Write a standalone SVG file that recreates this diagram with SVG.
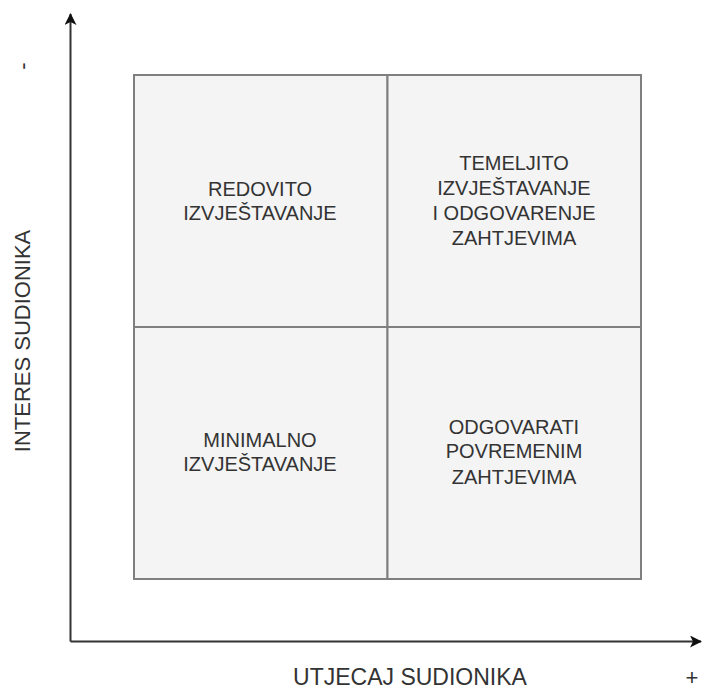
<svg xmlns="http://www.w3.org/2000/svg" width="702" height="691" viewBox="0 0 702 691">
<style>
.cell{fill:#f4f4f4;stroke:#7f7f7f;stroke-width:2}
.t{font-family:"Liberation Sans",Arial,sans-serif;font-size:20px;fill:#333;text-anchor:middle}
.ax{font-family:"Liberation Sans",Arial,sans-serif;fill:#333;text-anchor:middle}
.axis{stroke:#333;stroke-width:2;fill:none}
</style>
<defs>
<marker id="ah" markerWidth="12" markerHeight="12" viewBox="0 0 12 12" refX="11" refY="6" orient="auto" markerUnits="userSpaceOnUse">
<path d="M0,0 L12,6 L0,12 L3,6 Z" fill="#111"/>
</marker>
</defs>
<g id="q-top-left"><rect class="cell" x="134" y="75" width="253.5" height="252"/>
<text class="t" x="260" y="196">REDOVITO</text><text class="t" x="260" y="220">IZVJEŠTAVANJE</text></g>
<g id="q-top-right"><rect class="cell" x="387.5" y="75" width="253.5" height="252"/>
<text class="t" x="514" y="170">TEMELJITO</text><text class="t" x="514" y="195">IZVJEŠTAVANJE</text><text class="t" x="514" y="220">I ODGOVARENJE</text><text class="t" x="514" y="245">ZAHTJEVIMA</text></g>
<g id="q-bottom-left"><rect class="cell" x="134" y="327" width="253.5" height="252"/>
<text class="t" x="260" y="447">MINIMALNO</text><text class="t" x="260" y="471">IZVJEŠTAVANJE</text></g>
<g id="q-bottom-right"><rect class="cell" x="387.5" y="327" width="253.5" height="252"/>
<text class="t" x="514" y="434">ODGOVARATI</text><text class="t" x="514" y="458">POVREMENIM</text><text class="t" x="514" y="484">ZAHTJEVIMA</text></g>
<g id="connectors">
<path class="axis" d="M70.5,641.5 L70.5,14" marker-end="url(#ah)"/>
<path class="axis" d="M70.5,641.5 L701,641.5" marker-end="url(#ah)"/>
</g>
<g id="labels">
<text class="ax" font-size="22" transform="translate(30,341) rotate(-90)">INTERES SUDIONIKA</text>
<text class="ax" font-size="23" x="410" y="685">UTJECAJ SUDIONIKA</text>
<text class="ax" font-size="22" transform="translate(30,66) rotate(-90)">-</text>
<text class="ax" font-size="22" x="692" y="685">+</text>
</g>
</svg>
